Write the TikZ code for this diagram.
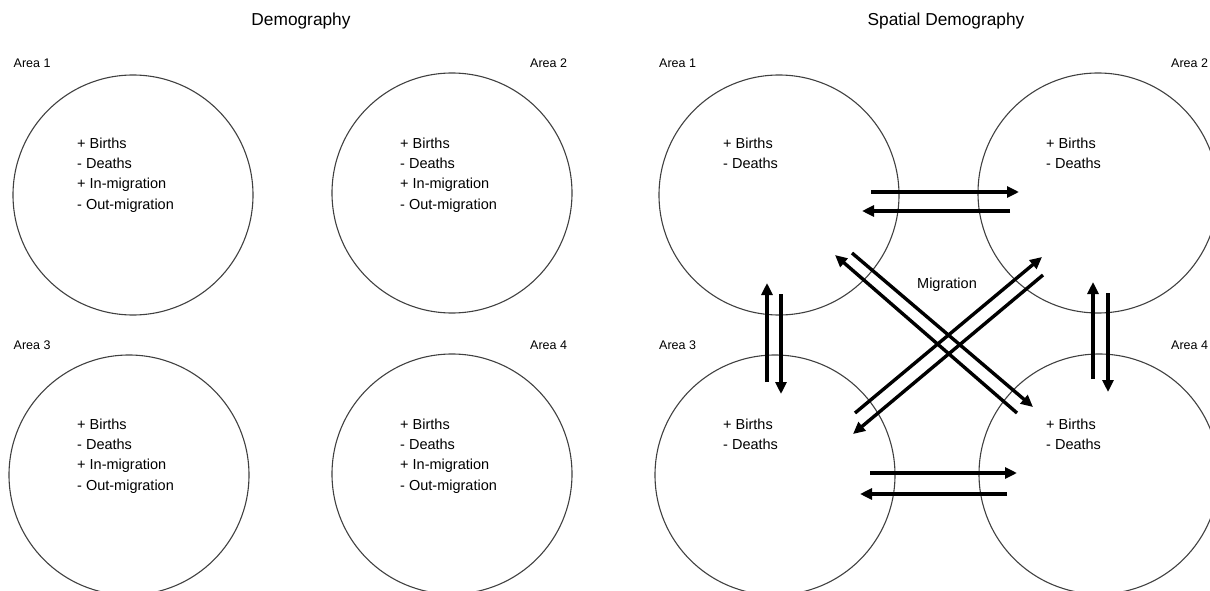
\documentclass[tikz,border=0pt]{standalone}
\usepackage{fontspec}
\setmainfont{Liberation Sans}
\usetikzlibrary{arrows.meta,calc}

\begin{document}
\begin{tikzpicture}[x=1pt, y=-1pt, >={Triangle[length=12pt,width=11pt]},
  area/.style={circle, draw=black!75, line width=1.1pt, minimum size=240pt, inner sep=0pt},
  lab/.style={anchor=base west, inner sep=0pt, font=\fontsize{12.5}{15}\selectfont},
  ttl/.style={anchor=base, inner sep=0pt, font=\fontsize{17.3}{20}\selectfont},
  terms/.style={anchor=north west, inner sep=0pt, align=left, font=\fontsize{14.5}{20.3}\selectfont},
  mig/.style={->, line width=3.4pt}]
  \useasboundingbox (0,0) rectangle (1210,591);

  % left: demography
  \node[ttl] (demo) at (301,26) {Demography};
  \node[area] (a1) at (133,195) {};
  \node[area] (a2) at (452,193) {};
  \node[area] (a3) at (129,475) {};
  \node[area] (a4) at (452,474) {};
  \node[lab] (la1) at (13.5,68) {Area 1};
  \node[lab] (la2) at (530,68) {Area 2};
  \node[lab] (la3) at (13.5,349) {Area 3};
  \node[lab] (la4) at (530,349) {Area 4};
  \node[terms] (ta1) at (77,137.5) {+ Births\\- Deaths\\+ In-migration\\- Out-migration};
  \node[terms] (ta2) at (400,137.5) {+ Births\\- Deaths\\+ In-migration\\- Out-migration};
  \node[terms] (ta3) at (77,418.5) {+ Births\\- Deaths\\+ In-migration\\- Out-migration};
  \node[terms] (ta4) at (400,418.5) {+ Births\\- Deaths\\+ In-migration\\- Out-migration};

  % right: spatial demography
  \node[ttl] (spat) at (946,26) {Spatial Demography};
  \node[area] (b1) at (779,195) {};
  \node[area] (b2) at (1098,193) {};
  \node[area] (b3) at (775,475) {};
  \node[area] (b4) at (1099,474) {};
  \node[lab] (lb1) at (659,68) {Area 1};
  \node[lab] (lb2) at (1171,68) {Area 2};
  \node[lab] (lb3) at (659,349) {Area 3};
  \node[lab] (lb4) at (1171,349) {Area 4};
  \node[terms] (tb1) at (723,137.5) {+ Births\\- Deaths};
  \node[terms] (tb2) at (1046,137.5) {+ Births\\- Deaths};
  \node[terms] (tb3) at (723,418.5) {+ Births\\- Deaths};
  \node[terms] (tb4) at (1046,418.5) {+ Births\\- Deaths};
  \node[anchor=base, inner sep=0pt, font=\fontsize{14.5}{17}\selectfont] (mg) at (947,288) {Migration};

  % migration flows
  \draw[mig] ($(b1)+(92,-3)$) -- ($(b2)+(-79,-1)$);
  \draw[mig] ($(b2)+(-88,18)$) -- ($(b1)+(83,16)$);
  \draw[mig] ($(b3)+(95,-2)$) -- ($(b4)+(-82,-1)$);
  \draw[mig] ($(b4)+(-92,20)$) -- ($(b3)+(85,19)$);
  \draw[mig] ($(b3)+(-8,-93)$) -- ($(b1)+(-12,88)$);
  \draw[mig] ($(b1)+(2,99)$) -- ($(b3)+(6,-81)$);
  \draw[mig] ($(b4)+(-6,-95)$) -- ($(b2)+(-5,89)$);
  \draw[mig] ($(b2)+(10,100)$) -- ($(b4)+(9,-82)$);
  \draw[mig] ($(b4)+(-82,-61)$) -- ($(b1)+(56,60)$);
  \draw[mig] ($(b1)+(73,58)$) -- ($(b4)+(-66,-67)$);
  \draw[mig] ($(b3)+(80,-62)$) -- ($(b2)+(-56,64)$);
  \draw[mig] ($(b2)+(-55,82)$) -- ($(b3)+(78,-41)$);
\end{tikzpicture}
\end{document}
